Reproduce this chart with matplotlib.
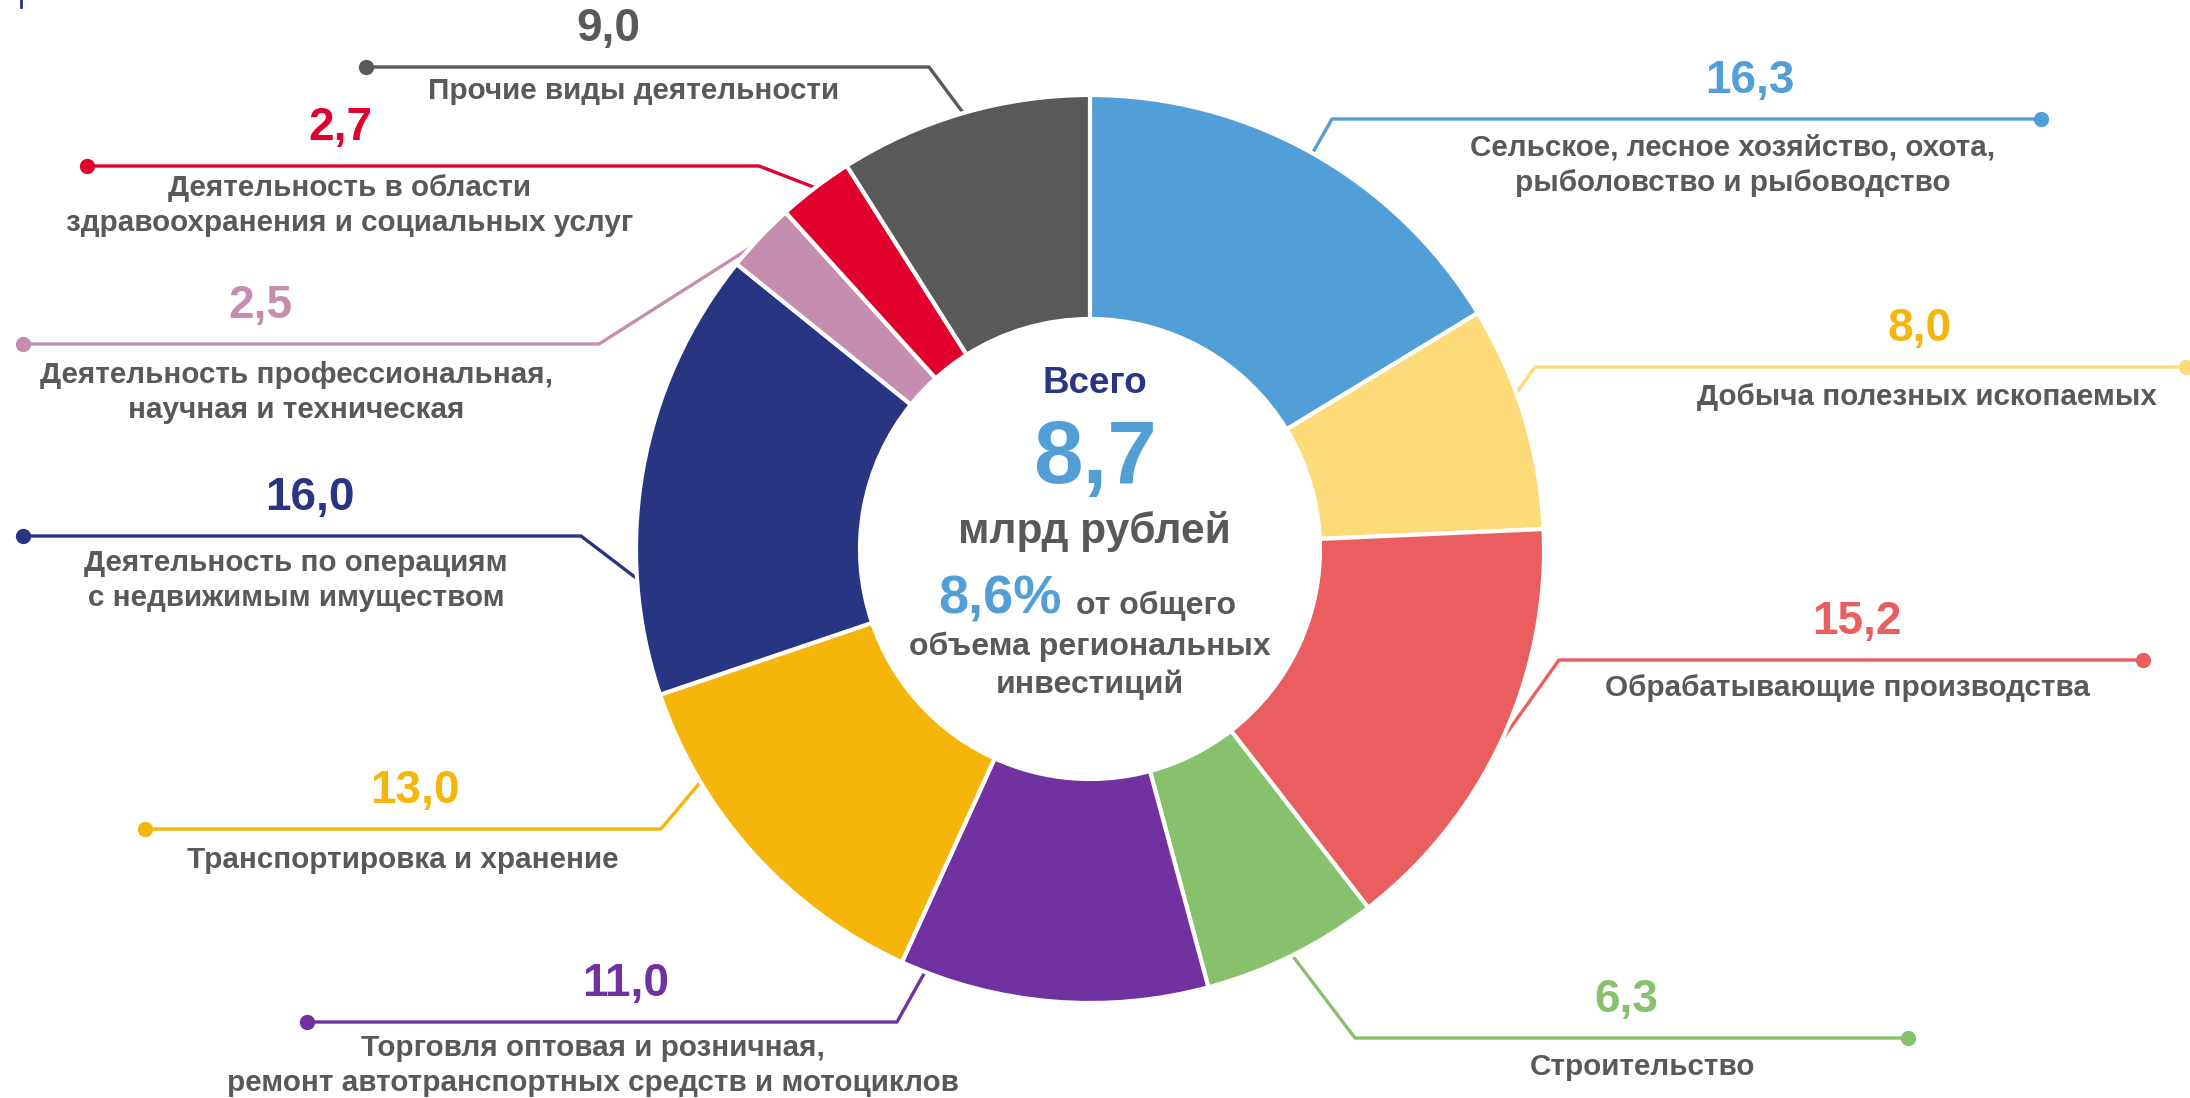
import numpy as np
import matplotlib.pyplot as plt

plt.rcParams['font.family'] = ['Liberation Sans', 'DejaVu Sans']

W, H = 2190, 1098

# ------------------------------
#   Data (млрд рублей, доли %)
# ------------------------------
sectors = [
    "Сельское, лесное хозяйство, охота,\nрыболовство и рыбоводство",
    "Добыча полезных ископаемых",
    "Обрабатывающие производства",
    "Строительство",
    "Торговля оптовая и розничная,\nремонт автотранспортных средств и мотоциклов",
    "Транспортировка и хранение",
    "Деятельность по операциям\nс недвижимым имуществом",
    "Деятельность профессиональная,\nнаучная и техническая",
    "Деятельность в области\nздравоохранения и социальных услуг",
    "Прочие виды деятельности",
]
shares = [16.3, 8.0, 15.2, 6.3, 11.0, 13.0, 16.0, 2.5, 2.7, 9.0]
colors = ["#529FD7", "#FCDB78", "#EB5E60", "#88C16D", "#7131A0",
          "#F6B50A", "#283583", "#C58EAF", "#E2002D", "#595959"]
value_colors = ["#529FD7", "#F6B50A", "#EB5E60", "#88C16D", "#7131A0",
                "#F6B50A", "#283583", "#C58EAF", "#E2002D", "#595959"]

total = "8,7"
share_total = "8,6%"

# ------------------------------
#   Layout (pixels, from top-left)
# ------------------------------
cx, cy = 1090, 549
r_out, r_in = 454, 230

line_y = [119, 367, 660, 1038, 1022, 829, 536, 344, 166, 67]
corner_x = [1332, 1535, 1559, 1355, 897, 661, 581, 599, 759, 929]
dot_x = [2041, 2186, 2143, 1908, 307, 145, 23, 23, 87, 366]
value_x = [1750, 1920, 1857, 1626, 626, 415, 310, 260, 340, 608]
label_x = [1733, 1927, 1847, 1642, 593, 403, 296, 296, 350, 634]
label_dy = [29, 30, 28, 29, 26, 31, 27, 31, 22, 24]
anchor = [0.5, 0.39, 0.5, 0.5, 0.92, 0.74, 0.26, 0.3, 0.5, 0.5]

TXT = "#595959"


def fy(y):
    return H - y


fig = plt.figure(figsize=(W / 100, H / 100), dpi=100)
ax = fig.add_axes([0, 0, 1, 1])

wedges, _ = ax.pie(shares, colors=colors, startangle=90, counterclock=False,
                   radius=r_out, center=(cx, fy(cy)),
                   wedgeprops=dict(width=r_out - r_in, edgecolor="white", linewidth=3))
for w in wedges:
    w.set_zorder(3)

# leader lines + labels
for i, w in enumerate(wedges):
    ang = np.deg2rad(w.theta2 - anchor[i] * (w.theta2 - w.theta1))
    ax_ = cx + r_out * np.cos(ang)
    ay_ = fy(cy) + r_out * np.sin(ang)
    ly = fy(line_y[i])
    ax.plot([ax_, corner_x[i], dot_x[i]], [ay_, ly, ly], color=colors[i],
            lw=2.4, solid_capstyle="butt", zorder=2)
    ax.plot(dot_x[i], ly, "o", color=colors[i], ms=10, zorder=2)

    val = f"{shares[i]:.1f}".replace(".", ",")
    ax.text(value_x[i], fy(line_y[i] - 38), val, color=value_colors[i],
            fontsize=33, fontweight="bold", ha="center", va="center")
    for j, line in enumerate(sectors[i].split("\n")):
        ax.text(label_x[i], fy(line_y[i] + label_dy[i] + 35 * j), line, color=TXT,
                fontsize=21.3, fontweight="bold", ha="center", va="center")

# centre text
ax.text(1095, fy(393), "Всего", color="#283583", fontsize=26.5,
        fontweight="bold", ha="center", va="baseline")
ax.text(1095, fy(483), total, color="#529FD7", fontsize=64,
        fontweight="bold", ha="center", va="baseline")
ax.text(1094, fy(543), "млрд рублей", color=TXT, fontsize=30.6,
        fontweight="bold", ha="center", va="baseline")
ax.text(1062, fy(614), share_total, color="#529FD7", fontsize=39,
        fontweight="bold", ha="right", va="baseline")
ax.text(1076, fy(614), "от общего", color=TXT, fontsize=23,
        fontweight="bold", ha="left", va="baseline")
ax.text(1090, fy(655), "объема региональных", color=TXT, fontsize=23,
        fontweight="bold", ha="center", va="baseline")
ax.text(1090, fy(693), "инвестиций", color=TXT, fontsize=23,
        fontweight="bold", ha="center", va="baseline")

# remnant of a cut-off element at the top-left edge
ax.plot([21, 21], [fy(0), fy(7)], color="#283583", lw=2)

ax.set_xlim(0, W)
ax.set_ylim(0, H)
ax.set_aspect("auto")
ax.axis("off")

fig.savefig("out.png", dpi=100, facecolor="white")
